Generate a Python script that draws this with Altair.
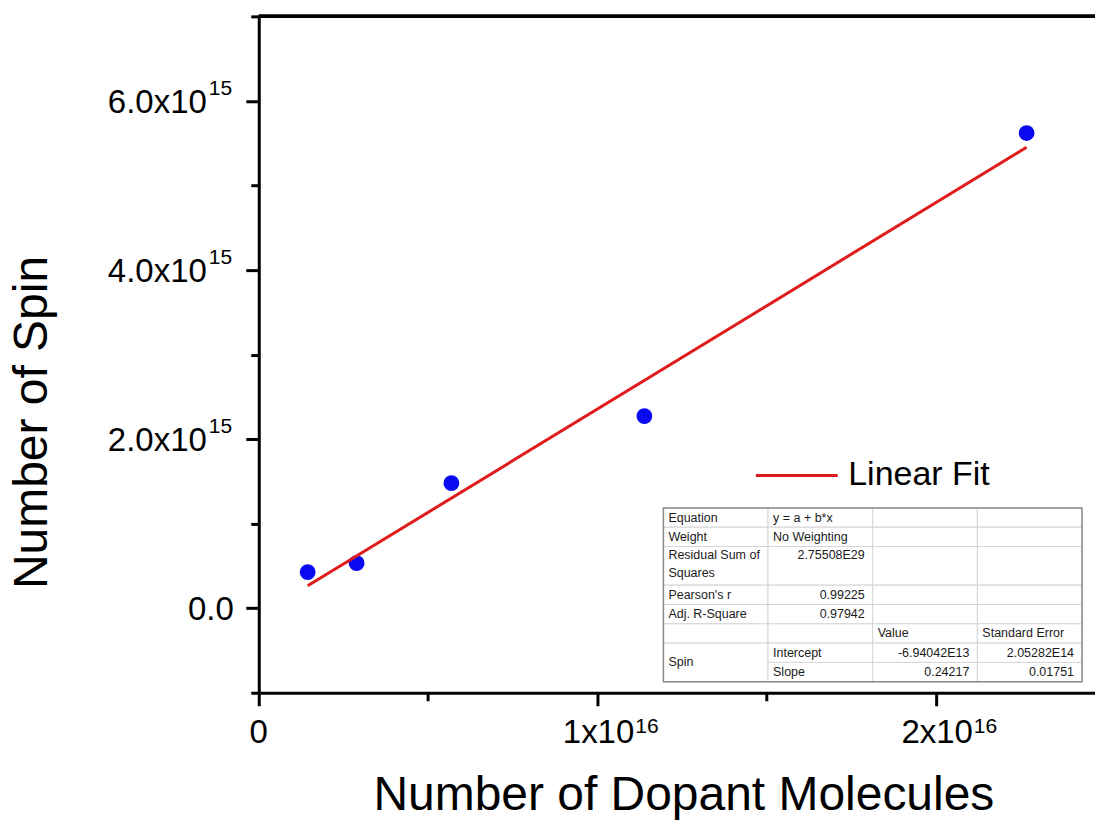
import altair as alt
import pandas as pd

# ---------------- data ----------------
dopant = [1.445e15, 2.89e15, 5.69e15, 1.139e16, 2.268e16]
spin = [4.26e14, 5.33e14, 1.479e15, 2.272e15, 5.62e15]
FIT_LABEL = "Linear Fit"

X_MIN, X_MAX = 0.0, 2.47e16
Y_MIN, Y_MAX = -1e15, 7e15
x_ticks = [0, 5e15, 1e16, 1.5e16, 2e16]
y_ticks = [-1e15, 0, 1e15, 2e15, 3e15, 4e15, 5e15, 6e15, 7e15]

x_label_vals = [0, 1e16, 2e16]
x_label_main = ["0", "1x10", "2x10"]
x_label_sup = ["", "16", "16"]

y_label_vals = [0, 2e15, 4e15, 6e15]
y_label_main = ["0.0", "2.0x10", "4.0x10", "6.0x10"]
y_label_sup = ["", "15", "15", "15"]

x_title = "Number of Dopant Molecules"
y_title = "Number of Spin"

# fit report table (Origin style)
cell_row0 = [0, 1, 2, 4, 5, 6, 7] + [0, 1, 2, 4, 5, 6, 7, 8] * 3
cell_row1 = [1, 2, 4, 5, 6, 7, 9] + [1, 2, 4, 5, 6, 7, 8, 9] * 3
cell_col = [0] * 7 + [1] * 8 + [2] * 8 + [3] * 8

text_row = [0.5, 1.5, 2.45, 3.35, 4.5, 5.5, 8,
            0.5, 1.5, 2.45, 4.5, 5.5, 7.5, 8.5,
            6.5, 7.5, 8.5,
            6.5, 7.5, 8.5]
text_col = [0, 0, 0, 0, 0, 0, 0,
            1, 1, 1, 1, 1, 1, 1,
            2, 2, 2,
            3, 3, 3]
text_str = ["Equation", "Weight", "Residual Sum of", "Squares", "Pearson's r", "Adj. R-Square", "Spin",
            "y = a + b*x", "No Weighting", "2.75508E29", "0.99225", "0.97942", "Intercept", "Slope",
            "Value", "-6.94042E13", "0.24217",
            "Standard Error", "2.05282E14", "0.01751"]
text_align = ["left"] * 7 + ["left", "left", "right", "right", "right", "left", "left"] + \
             ["left", "right", "right"] + ["left", "right", "right"]

# ---------------- styling ----------------
FONT = "Liberation Sans"
W, H = 837, 677
PAD_L, PAD_T = 259, 16

pts = pd.DataFrame({"x": dopant, "y": spin})
ylab = pd.DataFrame({"v": y_label_vals, "main": y_label_main, "sup": y_label_sup})
xlab = pd.DataFrame({"v": x_label_vals, "main": x_label_main, "sup": x_label_sup})
cells = pd.DataFrame({"r0": cell_row0, "r1": cell_row1, "c": cell_col})
texts = pd.DataFrame({"r": text_row, "c": text_col, "t": text_str, "a": text_align})

XS = alt.Scale(domain=[X_MIN, X_MAX], nice=False, zero=False)
YS = alt.Scale(domain=[Y_MIN, Y_MAX], nice=False, zero=False)

x_axis = alt.Axis(
    values=x_ticks, labels=False, grid=False,
    tickSize={"condition": {"test": "datum.value % 1e16 === 0", "value": 13}, "value": 8},
    tickWidth=3, tickColor="black", domainWidth=3, domainColor="black",
    title=x_title, titleFont=FONT, titleFontSize=48, titleFontWeight="normal",
    titleColor="black", titleX=425, titleY=117, titleAlign="center", titleBaseline="alphabetic",
)
y_axis = alt.Axis(
    values=y_ticks, labels=False, grid=False,
    tickSize={"condition": {"test": "datum.value % 2e15 === 0", "value": 13}, "value": 8},
    tickWidth=3, tickColor="black", domainWidth=3, domainColor="black",
    title=y_title, titleFont=FONT, titleFontSize=48, titleFontWeight="normal",
    titleColor="black", titleX=-212, titleY=406, titleAngle=270, titleAlign="center",
    titleBaseline="alphabetic",
)

points = alt.Chart(pts).mark_circle(size=250, opacity=1, color="#0a0af0").encode(
    x=alt.X("x:Q", scale=XS, axis=x_axis),
    y=alt.Y("y:Q", scale=YS, axis=y_axis),
)

fit = alt.Chart(pts).transform_regression("x", "y", method="linear").transform_calculate(
    series=f'"{FIT_LABEL}"'
).mark_line(strokeWidth=3).encode(
    x=alt.X("x:Q", scale=XS),
    y=alt.Y("y:Q", scale=YS),
    color=alt.Color(
        "series:N",
        scale=alt.Scale(domain=[FIT_LABEL], range=["#e01b1b"]),
        legend=alt.Legend(
            orient="none", legendX=496, legendY=417, title=None,
            symbolType="stroke", symbolSize=6724, symbolStrokeWidth=3,
            labelFont=FONT, labelFontSize=34, labelColor="black", labelOffset=9,
            padding=0,
        ),
    ),
)

top_line = alt.Chart(pts).mark_rule(strokeWidth=3, color="black").encode(
    y=alt.datum(Y_MAX, scale=YS)
)

ylab_main = alt.Chart(ylab).transform_filter("datum.sup != ''").mark_text(
    align="right", baseline="alphabetic", dx=-52, dy=12, font=FONT, fontSize=33, color="black"
).encode(x=alt.datum(X_MIN), y=alt.Y("v:Q", scale=YS), text="main:N")
ylab_zero = alt.Chart(ylab).transform_filter("datum.sup == ''").mark_text(
    align="right", baseline="alphabetic", dx=-25, dy=12, font=FONT, fontSize=33, color="black"
).encode(x=alt.datum(X_MIN), y=alt.Y("v:Q", scale=YS), text="main:N")
ylab_sup = alt.Chart(ylab).transform_filter("datum.sup != ''").mark_text(
    align="left", baseline="alphabetic", dx=-50, dy=-6, font=FONT, fontSize=21, color="black"
).encode(x=alt.datum(X_MIN), y=alt.Y("v:Q", scale=YS), text="sup:N")

xlab_main = alt.Chart(xlab).transform_filter("datum.sup != ''").mark_text(
    align="right", baseline="alphabetic", dx=37, dy=50, font=FONT, fontSize=33, color="black"
).encode(x=alt.X("v:Q", scale=XS), y=alt.datum(Y_MIN), text="main:N")
xlab_zero = alt.Chart(xlab).transform_filter("datum.sup == ''").mark_text(
    align="center", baseline="alphabetic", dx=0, dy=50, font=FONT, fontSize=33, color="black"
).encode(x=alt.X("v:Q", scale=XS), y=alt.datum(Y_MIN), text="main:N")
xlab_sup = alt.Chart(xlab).transform_filter("datum.sup != ''").mark_text(
    align="left", baseline="alphabetic", dx=38, dy=40, font=FONT, fontSize=21, color="black"
).encode(x=alt.X("v:Q", scale=XS), y=alt.datum(Y_MIN), text="sup:N")

main = alt.layer(points, fit, top_line, ylab_main, ylab_zero, ylab_sup,
                 xlab_main, xlab_zero, xlab_sup)

# table placed with its own scales (column / row units)
TXS = alt.Scale(domain=[0, 4], range=[405, 824], nice=False, zero=False)
TYS = alt.Scale(domain=[0, 9], range=[492, 666], nice=False, zero=False)

cell_rects = alt.Chart(cells).transform_calculate(c1="datum.c + 1").mark_rect(
    fill="white", stroke="#d6d6d6", strokeWidth=1
).encode(
    x=alt.X("c:Q", scale=TXS, axis=None), x2="c1:Q",
    y=alt.Y("r0:Q", scale=TYS, axis=None), y2="r1:Q",
)
outer = alt.Chart(pd.DataFrame({"c0": [0], "c1": [4], "r0": [0], "r1": [9]})).mark_rect(
    fill=None, stroke="#8a8a8a", strokeWidth=1.5
).encode(
    x=alt.X("c0:Q", scale=TXS, axis=None), x2="c1:Q",
    y=alt.Y("r0:Q", scale=TYS, axis=None), y2="r1:Q",
)
t_left = alt.Chart(texts).transform_filter("datum.a == 'left'").mark_text(
    align="left", baseline="middle", dx=5, font=FONT, fontSize=12.5, color="#1a1a1a"
).encode(x=alt.X("c:Q", scale=TXS, axis=None), y=alt.Y("r:Q", scale=TYS, axis=None), text="t:N")
t_right = alt.Chart(texts).transform_filter("datum.a == 'right'").transform_calculate(
    cr="datum.c + 1"
).mark_text(
    align="right", baseline="middle", dx=-8, font=FONT, fontSize=12.5, color="#1a1a1a"
).encode(x=alt.X("cr:Q", scale=TXS, axis=None), y=alt.Y("r:Q", scale=TYS, axis=None), text="t:N")

table = alt.layer(cell_rects, outer, t_left, t_right)

chart = alt.layer(main, table).resolve_scale(
    x="independent", y="independent"
).properties(
    width=W, height=H,
    autosize=alt.AutoSizeParams(type="none"),
    padding={"left": PAD_L, "top": PAD_T, "right": 0, "bottom": 820 - PAD_T - H},
    background="white",
).configure_view(stroke=None)

chart.save("out.html", embed_options={"renderer": "svg", "actions": False})
